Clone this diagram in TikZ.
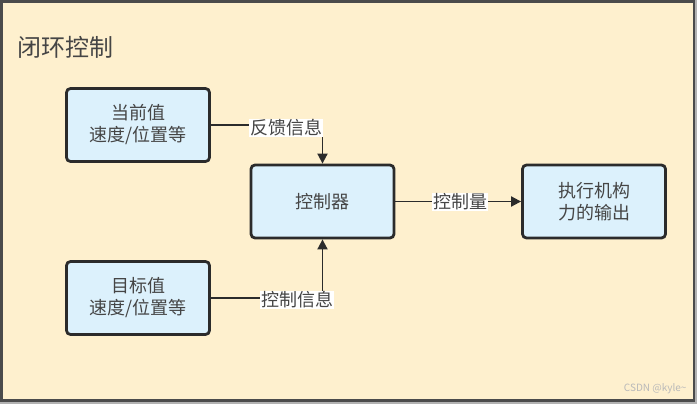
\documentclass[tikz,border=0pt]{standalone}
\usepackage{fontspec}
\setmainfont{Noto Sans CJK SC}
\usetikzlibrary{arrows.meta}
\definecolor{bgcream}{HTML}{FEF0CE}
\definecolor{boxblue}{HTML}{DCF1FC}
\definecolor{edge}{HTML}{2B2B2B}
\definecolor{txt}{HTML}{454545}
\begin{document}
\begin{tikzpicture}[x=1pt,y=-1pt,
  blockbox/.style={draw=edge,line width=2.8pt,fill=boxblue,rounded corners=4pt,
    minimum width=143pt,minimum height=73pt,align=center,text=txt,
    font=\fontsize{18}{22}\selectfont,inner sep=0pt},
  conn/.style={draw=edge,line width=1.8pt},
  arr/.style={conn,-{Triangle[length=10pt,width=10pt]}},
  lbl/.style={fill=white,text=txt,inner sep=1pt,font=\fontsize{18}{20}\selectfont}
]
\useasboundingbox (0,0) rectangle (697,404);
\fill[gray!60] (0,0) rectangle (697,404);
\draw[draw=edge!85,line width=2.5pt,fill=bgcream] (1.5,1.5) rectangle (694,400.5);
\node[anchor=west,text=txt,font=\fontsize{24}{26}\selectfont] (title) at (14,47) {闭环控制};
\node[blockbox] (cur) at (138,125) {当前值\\速度/位置等};
\node[blockbox] (ctl) at (322.5,201.5) {控制器};
\node[blockbox] (act) at (594,201.5) {执行机构\\力的输出};
\node[blockbox] (tgt) at (138,298) {目标值\\速度/位置等};
\coordinate (c1) at (ctl.north |- cur.east);
\coordinate (c2) at (ctl.south |- tgt.east);
\draw[conn] (cur.east) -- (c1);
\draw[arr] (c1) -- (ctl.north);
\draw[conn] (tgt.east) -- (c2);
\draw[arr] (c2) -- (ctl.south);
\draw[arr] (ctl.east) -- (act.west);
\node[lbl] (l1) at (286,128) {反馈信息};
\node[lbl] (l2) at (297,300) {控制信息};
\node[lbl] (l3) at (460,202) {控制量};
\node[anchor=east,text=gray!55,font=\fontsize{10}{12}\selectfont] (wm) at (690,389) {CSDN @kyle\textasciitilde};
\end{tikzpicture}
\end{document}
